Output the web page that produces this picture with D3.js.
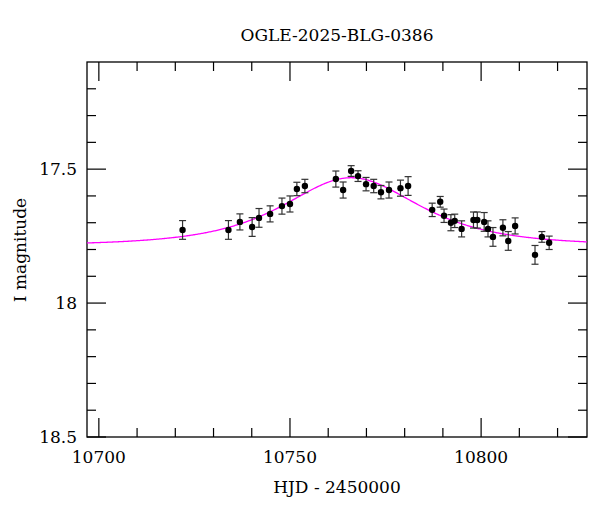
<!DOCTYPE html>
<html><head><meta charset="utf-8">
<script src="https://cdn.jsdelivr.net/npm/d3@7"></script>
<style>body{margin:0;background:#fff}text{font-family:"DejaVu Serif",serif;fill:#000}</style>
</head><body><svg id="c" width="600" height="512"></svg>
<script>
const hjd=[10721.9,10733.9,10736.9,10740.1,10741.9,10744.8,10747.9,10750.0,10751.8,10753.9,10762.0,10763.9,10766.0,10767.8,10769.9,10771.9,10773.8,10775.9,10778.9,10780.9,10787.2,10789.3,10790.3,10792.1,10793.1,10794.9,10798.0,10799.0,10800.8,10801.8,10803.1,10805.7,10807.1,10808.9,10814.1,10815.9,10817.8];
const mag=[17.727,17.727,17.697,17.716,17.682,17.667,17.638,17.630,17.574,17.563,17.537,17.578,17.507,17.526,17.556,17.563,17.586,17.578,17.571,17.563,17.652,17.622,17.674,17.700,17.693,17.723,17.690,17.690,17.697,17.723,17.753,17.719,17.768,17.712,17.820,17.753,17.775];
const err=[0.035,0.035,0.030,0.035,0.035,0.030,0.030,0.030,0.025,0.025,0.030,0.030,0.020,0.020,0.025,0.025,0.025,0.030,0.030,0.035,0.025,0.020,0.025,0.030,0.025,0.030,0.030,0.030,0.035,0.030,0.035,0.030,0.035,0.030,0.035,0.020,0.025];
const model={t0:10766,tE:20,u0:1.13,base:17.785};
const xTicks=[10700,10750,10800], yTicks=[17.5,18,18.5];

const svg=d3.select("#c");
const L=87,R=587,T=62,B=437;
const x=d3.scaleLinear().domain([10696.9,10827.7]).range([L,R]);
const y=d3.scaleLinear().domain([17.1,18.5]).range([T,B]);

svg.append("rect").attr("x",L).attr("y",T).attr("width",R-L).attr("height",B-T).attr("fill","none").attr("stroke","#000").attr("stroke-width",1.3);

function ticks(axis,vals,len,labels){
  vals.forEach(v=>{
    const g=svg.append("g").attr("stroke","#000").attr("stroke-width",1.2);
    if(axis==="x"){const p=x(v);
      g.append("line").attr("x1",p).attr("x2",p).attr("y1",B).attr("y2",B-len);
      g.append("line").attr("x1",p).attr("x2",p).attr("y1",T).attr("y2",T+len);
      if(labels) svg.append("text").attr("x",p).attr("y",B+26).attr("text-anchor","middle").attr("font-size",17).text(v);
    } else {const p=y(v);
      g.append("line").attr("x1",L).attr("x2",L+len).attr("y1",p).attr("y2",p);
      g.append("line").attr("x1",R).attr("x2",R-len).attr("y1",p).attr("y2",p);
      if(labels) svg.append("text").attr("x",L-10).attr("y",p+6).attr("text-anchor","end").attr("font-size",17).text(v);
    }
  });
}
const xMinor=d3.range(10700,10830,10).filter(v=>!xTicks.includes(v));
const yMinor=d3.range(17.2,18.5,0.1).map(v=>+v.toFixed(1)).filter(v=>!yTicks.includes(v));
ticks("x",xMinor,9,false); ticks("x",xTicks,19,true);
ticks("y",yMinor,9,false); ticks("y",yTicks,19,true);

const ts=d3.range(10696.9,10827.8,0.25);
const m=t=>{const tau=(t-model.t0)/model.tE;const u=Math.sqrt(model.u0*model.u0+tau*tau);const A=(u*u+2)/(u*Math.sqrt(u*u+4));return model.base-2.5*Math.log10(A);};
svg.append("path").datum(ts).attr("fill","none").attr("stroke","#ff00ff").attr("stroke-width",1.3)
  .attr("d",d3.line().x(t=>x(t)).y(t=>y(m(t))));

const eg=svg.append("g").attr("stroke","#333").attr("stroke-width",1.2);
hjd.forEach((t,i)=>{const px=x(t),y1=y(mag[i]-err[i]),y2=y(mag[i]+err[i]);
  eg.append("line").attr("x1",px).attr("x2",px).attr("y1",y1).attr("y2",y2);
  eg.append("line").attr("x1",px-3.5).attr("x2",px+3.5).attr("y1",y1).attr("y2",y1);
  eg.append("line").attr("x1",px-3.5).attr("x2",px+3.5).attr("y1",y2).attr("y2",y2);
});
svg.append("g").selectAll("circle").data(hjd).join("circle").attr("cx",d=>x(d)).attr("cy",(d,i)=>y(mag[i])).attr("r",3.2).attr("fill","#000");

svg.append("text").attr("x",337).attr("y",41).attr("text-anchor","middle").attr("font-size",17).text("OGLE-2025-BLG-0386");
svg.append("text").attr("x",337).attr("y",493).attr("text-anchor","middle").attr("font-size",17).text("HJD - 2450000");
svg.append("text").attr("transform","translate(26,250) rotate(-90)").attr("text-anchor","middle").attr("font-size",17).text("I magnitude");
</script></body></html>
